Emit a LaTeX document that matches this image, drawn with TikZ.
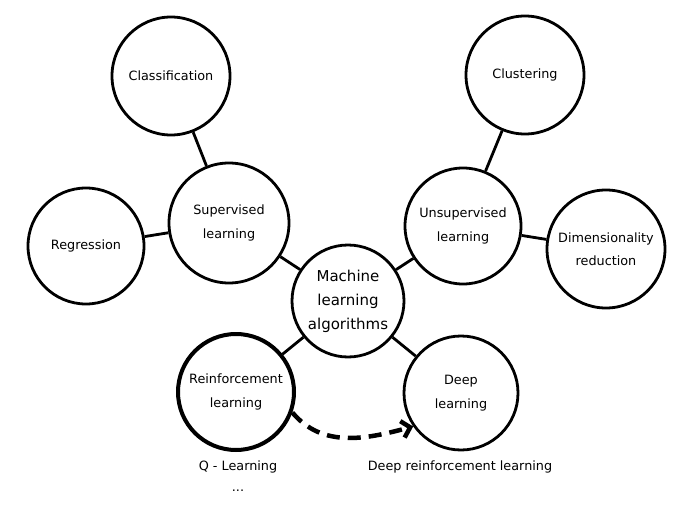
\documentclass[tikz,border=0pt]{standalone}
\usepackage{fontspec}
\setmainfont{DejaVu Sans}
\usetikzlibrary{arrows.meta}

\begin{document}
\begin{tikzpicture}[x=1pt, y=-1pt, >={Straight Barb[length=8pt,width=17pt]},
  font=\fontsize{12.8}{23.5}\selectfont,
  topic/.style={draw, circle, line width=2.8pt, minimum size=116pt, inner sep=0pt, align=center},
  link/.style={line width=2.8pt}]

% --- canvas ---
\useasboundingbox (0,0) rectangle (694,519);

% --- hub ---
\node[topic, minimum size=112pt, font=\fontsize{15}{24}\selectfont] (ml) at (348,301) {Machine\\learning\\algorithms};

% --- branches ---
\node[topic, minimum size=120pt] (sup) at (229,223) {Supervised\\learning};
\node[topic] (unsup) at (463,226) {Unsupervised\\learning};
\node[topic, line width=4pt] (rl) at (236,392) {Reinforcement\\learning};
\node[topic, minimum size=114pt] (dl) at (461,393) {Deep\\learning};

% --- leaves ---
\node[topic, minimum size=118pt] (cls) at (171,76) {Classification};
\node[topic] (reg) at (86,246) {Regression};
\node[topic, minimum size=118pt] (clu) at (525,75) {Clustering};
\node[topic, minimum size=118pt] (dim) at (606,249) {Dimensionality\\reduction};

% --- links ---
\draw[link] (ml) -- (sup);
\draw[link] (ml) -- (unsup);
\draw[link] (ml) -- (rl);
\draw[link] (ml) -- (dl);
\draw[link] (sup) -- (cls);
\draw[link] (sup) -- (reg);
\draw[link] (unsup) -- (clu);
\draw[link] (unsup) -- (dim);

% --- examples ---
\node (ql) at (238,467) {Q - Learning};
\node (dots) at (238,491) {...};
\node (drl) at (460,467) {Deep reinforcement learning};

\draw[->, line width=4.5pt, dash pattern=on 13pt off 8pt] (rl.-20) to[out=-50, in=195] (dl.-145);

\end{tikzpicture}
\end{document}
